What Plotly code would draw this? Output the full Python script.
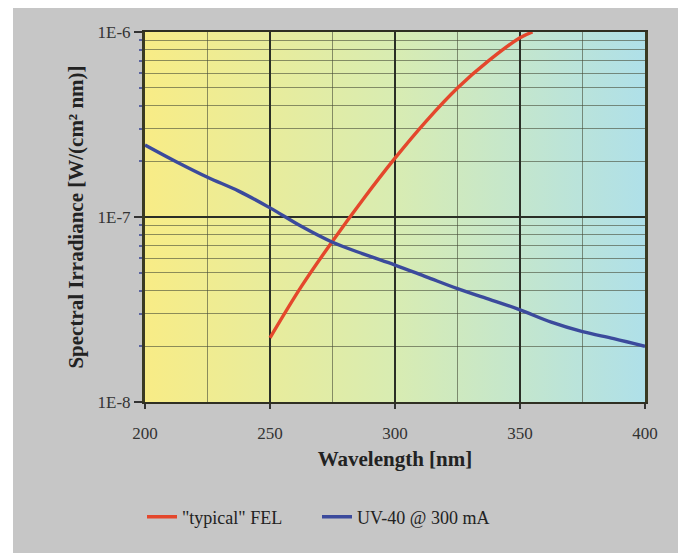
import base64
import plotly.graph_objects as go

# ---- data ----
fel_wavelength = [250, 262.5, 275, 287.5, 300, 312.5, 325, 337.5, 350, 355]
fel_irradiance = [2.22e-8, 4.2e-8, 7.4e-8, 1.26e-7, 2.08e-7, 3.3e-7, 4.98e-7, 7.0e-7, 9.3e-7, 1.0e-6]

uv_wavelength = [200, 212.5, 225, 237.5, 250, 262.5, 275, 287.5, 300, 312.5, 325, 337.5, 350, 362.5, 375, 387.5, 400]
uv_irradiance = [2.45e-7, 1.99e-7, 1.64e-7, 1.38e-7, 1.12e-7, 8.9e-8, 7.3e-8, 6.3e-8, 5.5e-8, 4.75e-8, 4.1e-8, 3.6e-8, 3.15e-8, 2.7e-8, 2.4e-8, 2.2e-8, 2.0e-8]

x_ticks = [200, 250, 300, 350, 400]
x_minor = [225, 275, 325, 375]
y_ticks = [1e-8, 1e-7, 1e-6]
y_ticktext = ["1E-8", "1E-7", "1E-6"]
y_minor = [m * 10.0 ** e for e in (-8, -7) for m in range(2, 10)]

series_names = ['"typical" FEL', "UV-40 @ 300 mA"]
series_colors = ["#e4472c", "#3b4a9c"]

FONT = "Liberation Serif, Times New Roman, serif"

# gradient background image for the plot area
svg = (
    '<svg xmlns="http://www.w3.org/2000/svg" width="100" height="100" preserveAspectRatio="none">'
    '<defs><linearGradient id="g" x1="0" y1="0" x2="1" y2="0">'
    '<stop offset="0" stop-color="#f8ec86"/>'
    '<stop offset="0.5" stop-color="#d8ecb2"/>'
    '<stop offset="1" stop-color="#afe0e9"/>'
    '</linearGradient></defs>'
    '<rect width="100" height="100" fill="url(#g)"/></svg>'
)
svg_uri = "data:image/svg+xml;base64," + base64.b64encode(svg.encode()).decode()

fig = go.Figure()
fig.add_trace(go.Scatter(x=fel_wavelength, y=fel_irradiance, mode="lines",
                         name=series_names[0], line=dict(color=series_colors[0], width=3.4),
                         line_shape="spline"))
fig.add_trace(go.Scatter(x=uv_wavelength, y=uv_irradiance, mode="lines",
                         name=series_names[1], line=dict(color=series_colors[1], width=3.4),
                         line_shape="spline"))

W, H = 678, 548
L, R, T, B = 137, 41, 24, 154
pw, ph = W - L - R, H - T - B


def px(xp):
    return (xp - L) / pw


def py(yp):
    return (H - B - yp) / ph


white = dict(type="rect", xref="paper", yref="paper", layer="below",
             fillcolor="white", line=dict(width=0))
fig.update_layout(
    width=W, height=H,
    margin=dict(l=L, r=R, t=T, b=B),
    paper_bgcolor="#c6c6c6",
    plot_bgcolor="#dcecae",
    font=dict(family=FONT, size=17, color="#222"),
    showlegend=True,
    legend=dict(orientation="h", x=px(134), xanchor="left", y=py(509), yanchor="middle",
                bgcolor="rgba(0,0,0,0)", font=dict(family=FONT, size=18, color="#222"),
                itemwidth=30, tracegroupgap=0, entrywidth=130, entrywidthmode="pixels"),
    images=[dict(source=svg_uri, xref="paper", yref="paper", x=0, y=1, sizex=1, sizey=1,
                 sizing="stretch", layer="below", xanchor="left", yanchor="top")],
    shapes=[
        dict(white, x0=px(0), x1=px(5), y0=py(H), y1=py(0)),
        dict(white, x0=px(674), x1=px(W), y0=py(H), y1=py(0)),
        dict(white, x0=px(0), x1=px(W), y0=py(H), y1=py(545)),
    ],
)

fig.update_xaxes(
    range=[200, 400], tickvals=x_ticks, ticks="outside", ticklen=5, tickwidth=1.5, tickcolor="#333",
    ticklabelstandoff=10,
    showline=True, linecolor="#2f2f22", linewidth=2, mirror=True,
    showgrid=True, gridcolor="#2a2e26", gridwidth=2,
    minor=dict(tickvals=x_minor, showgrid=True, gridcolor="rgba(70,75,55,0.6)", gridwidth=1, ticks=""),
    title=dict(text="<b>Wavelength [nm]</b>", font=dict(family=FONT, size=21, color="#222"), standoff=9),
    tickfont=dict(family=FONT, size=17, color="#333"), zeroline=False,
)
fig.update_yaxes(
    type="log", range=[-8, -6], tickvals=y_ticks, ticktext=y_ticktext,
    ticks="outside", ticklen=8, tickwidth=1.5, tickcolor="#333",
    showline=True, linecolor="#3a3a22", linewidth=3, mirror=True,
    showgrid=True, gridcolor="#2a2e26", gridwidth=2,
    minor=dict(tickvals=y_minor, showgrid=True, gridcolor="rgba(70,75,55,0.6)", gridwidth=1,
               ticks="outside", ticklen=3, tickcolor="#5a63a0"),
    title=dict(text="<b>Spectral Irradiance [W/(cm² nm)]</b>", font=dict(family=FONT, size=21, color="#222"),
               standoff=9),
    tickfont=dict(family=FONT, size=17, color="#333"), zeroline=False,
)

fig.write_html("out.html")
